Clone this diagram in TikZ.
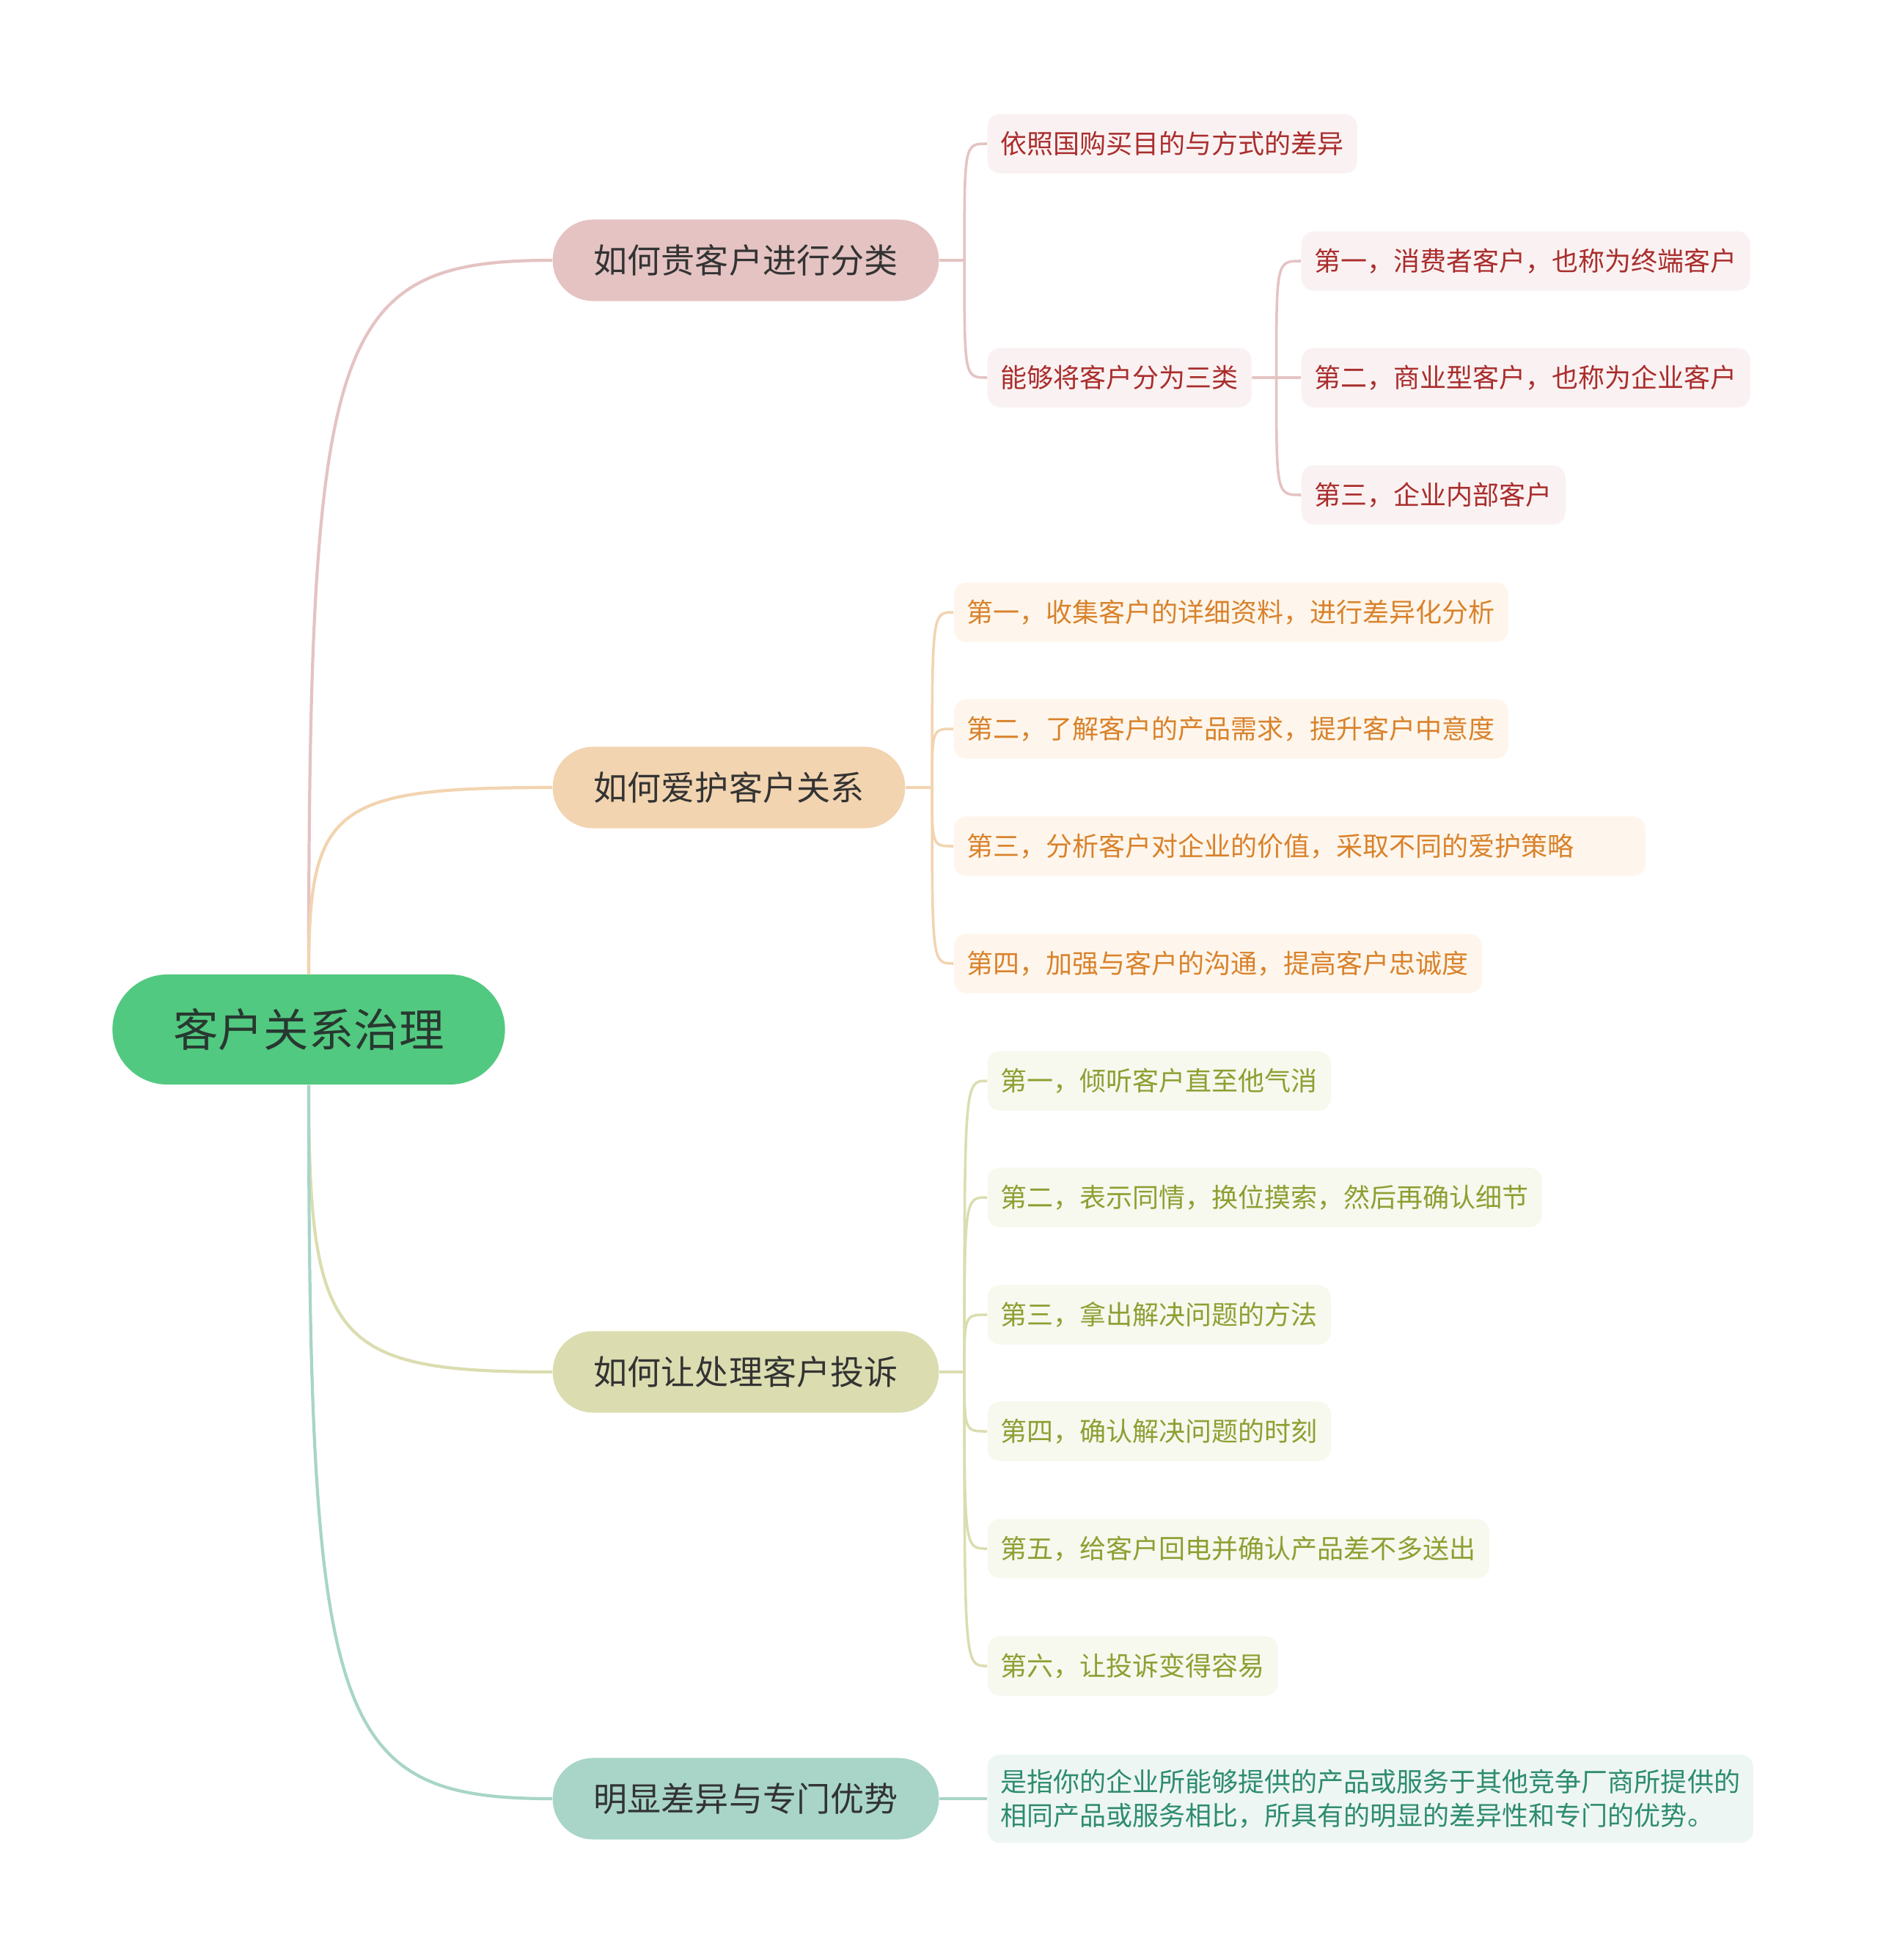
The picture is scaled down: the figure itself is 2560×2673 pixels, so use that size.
\documentclass[tikz,border=0pt]{standalone}
\usepackage{fontspec}
\setmainfont{Noto Sans CJK SC}
\usetikzlibrary{calc}
\definecolor{RootGreen}{RGB}{82,201,128}
\definecolor{RootText}{RGB}{40,56,48}
\definecolor{TopicText}{RGB}{51,51,51}
\definecolor{TopicA}{RGB}{229,195,195}
\definecolor{TopicB}{RGB}{242,212,176}
\definecolor{TopicC}{RGB}{219,221,176}
\definecolor{TopicD}{RGB}{168,213,200}
\definecolor{LeafA}{RGB}{250,242,242}
\definecolor{LeafB}{RGB}{254,246,236}
\definecolor{LeafC}{RGB}{247,248,238}
\definecolor{LeafD}{RGB}{238,246,244}
\definecolor{TextA}{RGB}{170,45,45}
\definecolor{TextB}{RGB}{217,130,43}
\definecolor{TextC}{RGB}{140,160,50}
\definecolor{TextD}{RGB}{45,140,110}

\begin{document}
\begin{tikzpicture}[x=0.01cm,y=-0.01cm,
  rootbox/.style={fill=RootGreen,text=RootText,rounded corners=0.75cm,minimum height=1.5cm,
    inner xsep=0.83cm,font=\fontsize{17.5pt}{21pt}\selectfont},
  topic/.style={fill=#1,text=TopicText,anchor=west,rounded corners=0.55cm,minimum height=1.11cm,
    inner xsep=0.56cm,font=\fontsize{13.1pt}{15pt}\selectfont},
  leaf/.style={anchor=west,rounded corners=0.17cm,minimum height=0.81cm,inner xsep=0.18cm,
    font=\fontsize{10.24pt}{13.1pt}\selectfont},
  leafA/.style={leaf,fill=LeafA,text=TextA},
  leafB/.style={leaf,fill=LeafB,text=TextB},
  leafC/.style={leaf,fill=LeafC,text=TextC},
  leafD/.style={leaf,fill=LeafD,text=TextD},
  link/.style={draw=#1,line width=1pt},
  mainlink/.style={draw=#1,line width=1.2pt}]
  \useasboundingbox (0,0) rectangle (2560,2673);

  % root and main topics
  \node[rootbox] (R) at (421,1404) {客户关系治理};
  \node[topic=TopicA] (A) at (753,355) {如何贵客户进行分类};
  \node[topic=TopicB] (B) at (753,1074) {如何爱护客户关系};
  \node[topic=TopicC] (C) at (753,1871) {如何让处理客户投诉};
  \node[topic=TopicD] (D) at (753,2453) {明显差异与专门优势};

  % first branch
  \node[leafA] (A1) at (1346,196) {依照国购买目的与方式的差异};
  \node[leafA] (A2) at (1346,515) {能够将客户分为三类};
  \node[leafA] (A21) at (1774,356) {第一，消费者客户，也称为终端客户};
  \node[leafA] (A22) at (1774,515) {第二，商业型客户，也称为企业客户};
  \node[leafA] (A23) at (1774,675) {第三，企业内部客户};

  % second branch
  \node[leafB] (B1) at (1300,835) {第一，收集客户的详细资料，进行差异化分析};
  \node[leafB] (B2) at (1300,994) {第二，了解客户的产品需求，提升客户中意度};
  \node[leafB,align=left,text width=9.07cm] (B3) at (1300,1154) {第三，分析客户对企业的价值，采取不同的爱护策略};
  \node[leafB] (B4) at (1300,1314) {第四，加强与客户的沟通，提高客户忠诚度};

  % third branch
  \node[leafC] (C1) at (1346,1474) {第一，倾听客户直至他气消};
  \node[leafC] (C2) at (1346,1633) {第二，表示同情，换位摸索，然后再确认细节};
  \node[leafC] (C3) at (1346,1793) {第三，拿出解决问题的方法};
  \node[leafC] (C4) at (1346,1952) {第四，确认解决问题的时刻};
  \node[leafC] (C5) at (1346,2112) {第五，给客户回电并确认产品差不多送出};
  \node[leafC] (C6) at (1346,2272) {第六，让投诉变得容易};

  % fourth branch
  \node[leafD,align=left,inner ysep=0.2cm] (D1) at (1346,2453)
    {是指你的企业所能够提供的产品或服务于其他竞争厂商所提供的\\相同产品或服务相比，所具有的明显的差异性和专门的优势。};

  % root links
  \draw[mainlink=TopicA] (R.north) .. controls ($(R.north)!0.9!(R.north |- A.west)$) and ($(A.west)!0.9!(R.north |- A.west)$) .. (A.west);
  \draw[mainlink=TopicB] (R.north) .. controls ($(R.north)!0.9!(R.north |- B.west)$) and ($(B.west)!0.9!(R.north |- B.west)$) .. (B.west);
  \draw[mainlink=TopicC] (R.south) .. controls ($(R.south)!0.9!(R.south |- C.west)$) and ($(C.west)!0.9!(R.south |- C.west)$) .. (C.west);
  \draw[mainlink=TopicD] (R.south) .. controls ($(R.south)!0.9!(R.south |- D.west)$) and ($(D.west)!0.9!(R.south |- D.west)$) .. (D.west);

  % leaf links
  \foreach \c in {A1,A2}
    \draw[link=TopicA] (A.east) -- ++(34,0) coordinate (s) .. controls (s |- \c.west) and (s |- \c.west) .. (\c.west);
  \foreach \c in {A21,A22,A23}
    \draw[link=TopicA] (A2.east) -- ++(33,0) coordinate (s) .. controls (s |- \c.west) and (s |- \c.west) .. (\c.west);
  \foreach \c in {B1,B2,B3,B4}
    \draw[link=TopicB] (B.east) -- ++(36,0) coordinate (s) .. controls (s |- \c.west) and (s |- \c.west) .. (\c.west);
  \foreach \c in {C1,C2,C3,C4,C5,C6}
    \draw[link=TopicC] (C.east) -- ++(34,0) coordinate (s) .. controls (s |- \c.west) and (s |- \c.west) .. (\c.west);
  \draw[link=TopicD] (D.east) -- (D1.west);
\end{tikzpicture}
\end{document}
